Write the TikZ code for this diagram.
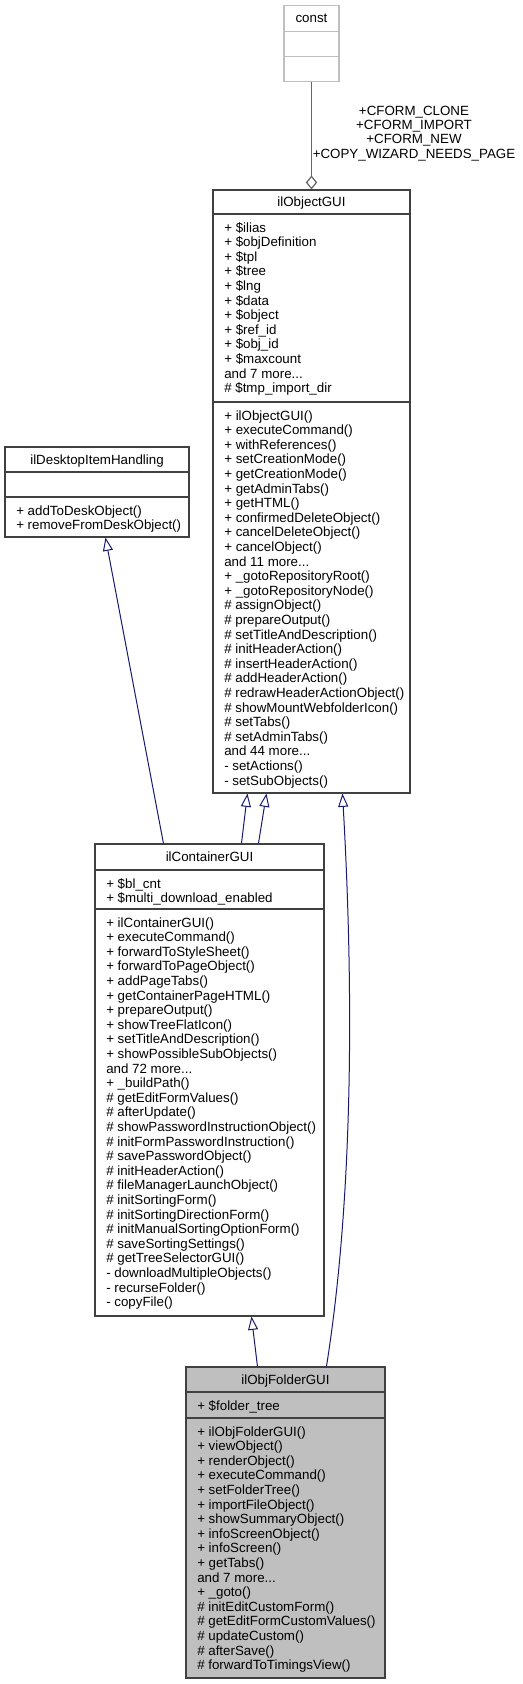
\documentclass[tikz,border=0pt]{standalone}
\usepackage{fontspec}
\setmainfont{Liberation Sans}
\usetikzlibrary{arrows.meta,fit,calc}
\definecolor{boxline}{HTML}{404040}
\definecolor{constline}{HTML}{BFBFBF}
\definecolor{aggline}{HTML}{666666}
\definecolor{inhline}{HTML}{191970}
\definecolor{focusfill}{HTML}{BFBFBF}
\tikzset{
  classbox/.style={draw=boxline, line width=0.8pt, inner sep=0pt},
  constbox/.style={draw=constline, line width=0.8pt, inner sep=0pt},
  sepline/.style={draw=boxline, line width=0.8pt},
  constsep/.style={draw=constline, line width=0.8pt},
  umltext/.style={inner sep=0pt, anchor=north west, align=left, font=\fontsize{10pt}{10.95pt}\selectfont},
  umltitle/.style={inner sep=0pt, anchor=base, font=\fontsize{10pt}{10.95pt}\selectfont},
  edgelabel/.style={inner sep=0pt, align=center, font=\fontsize{10pt}{10.65pt}\selectfont},
  inh/.style={draw=inhline, line width=0.75pt, -{Triangle[open,length=10pt,width=7.5pt]}},
  agg/.style={draw=aggline, line width=0.9pt, -{Diamond[open,length=10.5pt,width=8.5pt]}}
}
\begin{document}
\begin{tikzpicture}[x=0.75pt,y=-0.75pt]
\useasboundingbox (0,0) rectangle (523,1684);

% ---------- const ----------
\node[constbox, fit={(284,5.3) (339,81.7)}] (const) {};
\draw[constsep] (284,31.7) -- (339,31.7);
\draw[constsep] (284,56.7) -- (339,56.7);
\node[umltitle] (const-t) at (311.5,22.3) {const};

% ---------- ilObjectGUI ----------
\node[classbox, fit={(213,190) (410,793)}] (objgui) {};
\draw[sepline] (213,214) -- (410,214);
\draw[sepline] (213,402) -- (410,402);
\node[umltitle] (objgui-t) at (311.5,206.8) {ilObjectGUI};
\node[umltext] (objgui-a) at (224,221.6) {\strut + \$ilias\\
+ \$objDefinition\\
+ \$tpl\\
+ \$tree\\
+ \$lng\\
+ \$data\\
+ \$object\\
+ \$ref\_id\\
+ \$obj\_id\\
+ \$maxcount\\
and 7 more...\\
\# \$tmp\_import\_dir};
\node[umltext] (objgui-m) at (224,409.6) {\strut + ilObjectGUI()\\
+ executeCommand()\\
+ withReferences()\\
+ setCreationMode()\\
+ getCreationMode()\\
+ getAdminTabs()\\
+ getHTML()\\
+ confirmedDeleteObject()\\
+ cancelDeleteObject()\\
+ cancelObject()\\
and 11 more...\\
+ \_gotoRepositoryRoot()\\
+ \_gotoRepositoryNode()\\
\# assignObject()\\
\# prepareOutput()\\
\# setTitleAndDescription()\\
\# initHeaderAction()\\
\# insertHeaderAction()\\
\# addHeaderAction()\\
\# redrawHeaderActionObject()\\
\# showMountWebfolderIcon()\\
\# setTabs()\\
\# setAdminTabs()\\
and 44 more...\\
- setActions()\\
- setSubObjects()};

% ---------- ilDesktopItemHandling ----------
\node[classbox, fit={(5,447) (189,537)}] (desk) {};
\draw[sepline] (5,472) -- (189,472);
\draw[sepline] (5,497) -- (189,497);
\node[umltitle] (desk-t) at (97,464.3) {ilDesktopItemHandling};
\node[umltext] (desk-m) at (16,504.6) {\strut + addToDeskObject()\\
+ removeFromDeskObject()};

% ---------- ilContainerGUI ----------
\node[classbox, fit={(95,844) (324,1316)}] (cont) {};
\draw[sepline] (95,870) -- (324,870);
\draw[sepline] (95,909) -- (324,909);
\node[umltitle] (cont-t) at (209.5,861.8) {ilContainerGUI};
\node[umltext] (cont-a) at (106,877.6) {\strut + \$bl\_cnt\\
+ \$multi\_download\_enabled};
\node[umltext] (cont-m) at (106,916.6) {\strut + ilContainerGUI()\\
+ executeCommand()\\
+ forwardToStyleSheet()\\
+ forwardToPageObject()\\
+ addPageTabs()\\
+ getContainerPageHTML()\\
+ prepareOutput()\\
+ showTreeFlatIcon()\\
+ setTitleAndDescription()\\
+ showPossibleSubObjects()\\
and 72 more...\\
+ \_buildPath()\\
\# getEditFormValues()\\
\# afterUpdate()\\
\# showPasswordInstructionObject()\\
\# initFormPasswordInstruction()\\
\# savePasswordObject()\\
\# initHeaderAction()\\
\# fileManagerLaunchObject()\\
\# initSortingForm()\\
\# initSortingDirectionForm()\\
\# initManualSortingOptionForm()\\
\# saveSortingSettings()\\
\# getTreeSelectorGUI()\\
- downloadMultipleObjects()\\
- recurseFolder()\\
- copyFile()};

% ---------- ilObjFolderGUI ----------
\node[classbox, fill=focusfill, fit={(186,1367) (385,1678)}] (fold) {};
\draw[sepline] (186,1392) -- (385,1392);
\draw[sepline] (186,1418) -- (385,1418);
\node[umltitle] (fold-t) at (285.5,1384.3) {ilObjFolderGUI};
\node[umltext] (fold-a) at (197,1399.6) {\strut + \$folder\_tree};
\node[umltext] (fold-m) at (197,1425.6) {\strut + ilObjFolderGUI()\\
+ viewObject()\\
+ renderObject()\\
+ executeCommand()\\
+ setFolderTree()\\
+ importFileObject()\\
+ showSummaryObject()\\
+ infoScreenObject()\\
+ infoScreen()\\
+ getTabs()\\
and 7 more...\\
+ \_goto()\\
\# initEditCustomForm()\\
\# getEditFormCustomValues()\\
\# updateCustom()\\
\# afterSave()\\
\# forwardToTimingsView()};

% ---------- connectors ----------
\draw[agg] (const.south) -- (objgui.north);
\node[edgelabel] (agglabel) at (414,133.5) {+CFORM\_CLONE\\
+CFORM\_IMPORT\\
+CFORM\_NEW\\
+COPY\_WIZARD\_NEEDS\_PAGE};

\draw[inh] ($(cont.north west)+(69,0)$) -- ($(desk.south west)+(101,0)$);
\draw[inh] ($(cont.north west)+(147,0)$) -- ($(objgui.south west)+(35,0)$);
\draw[inh] ($(cont.north west)+(164,0)$) -- ($(objgui.south west)+(54,0)$);
\draw[inh] ($(fold.north west)+(72,0)$) -- ($(cont.south west)+(157,0)$);
\draw[inh] ($(fold.north west)+(141,0)$) .. controls (356,1180) and (352,960) .. ($(objgui.south west)+(130,0)$);
\end{tikzpicture}
\end{document}
